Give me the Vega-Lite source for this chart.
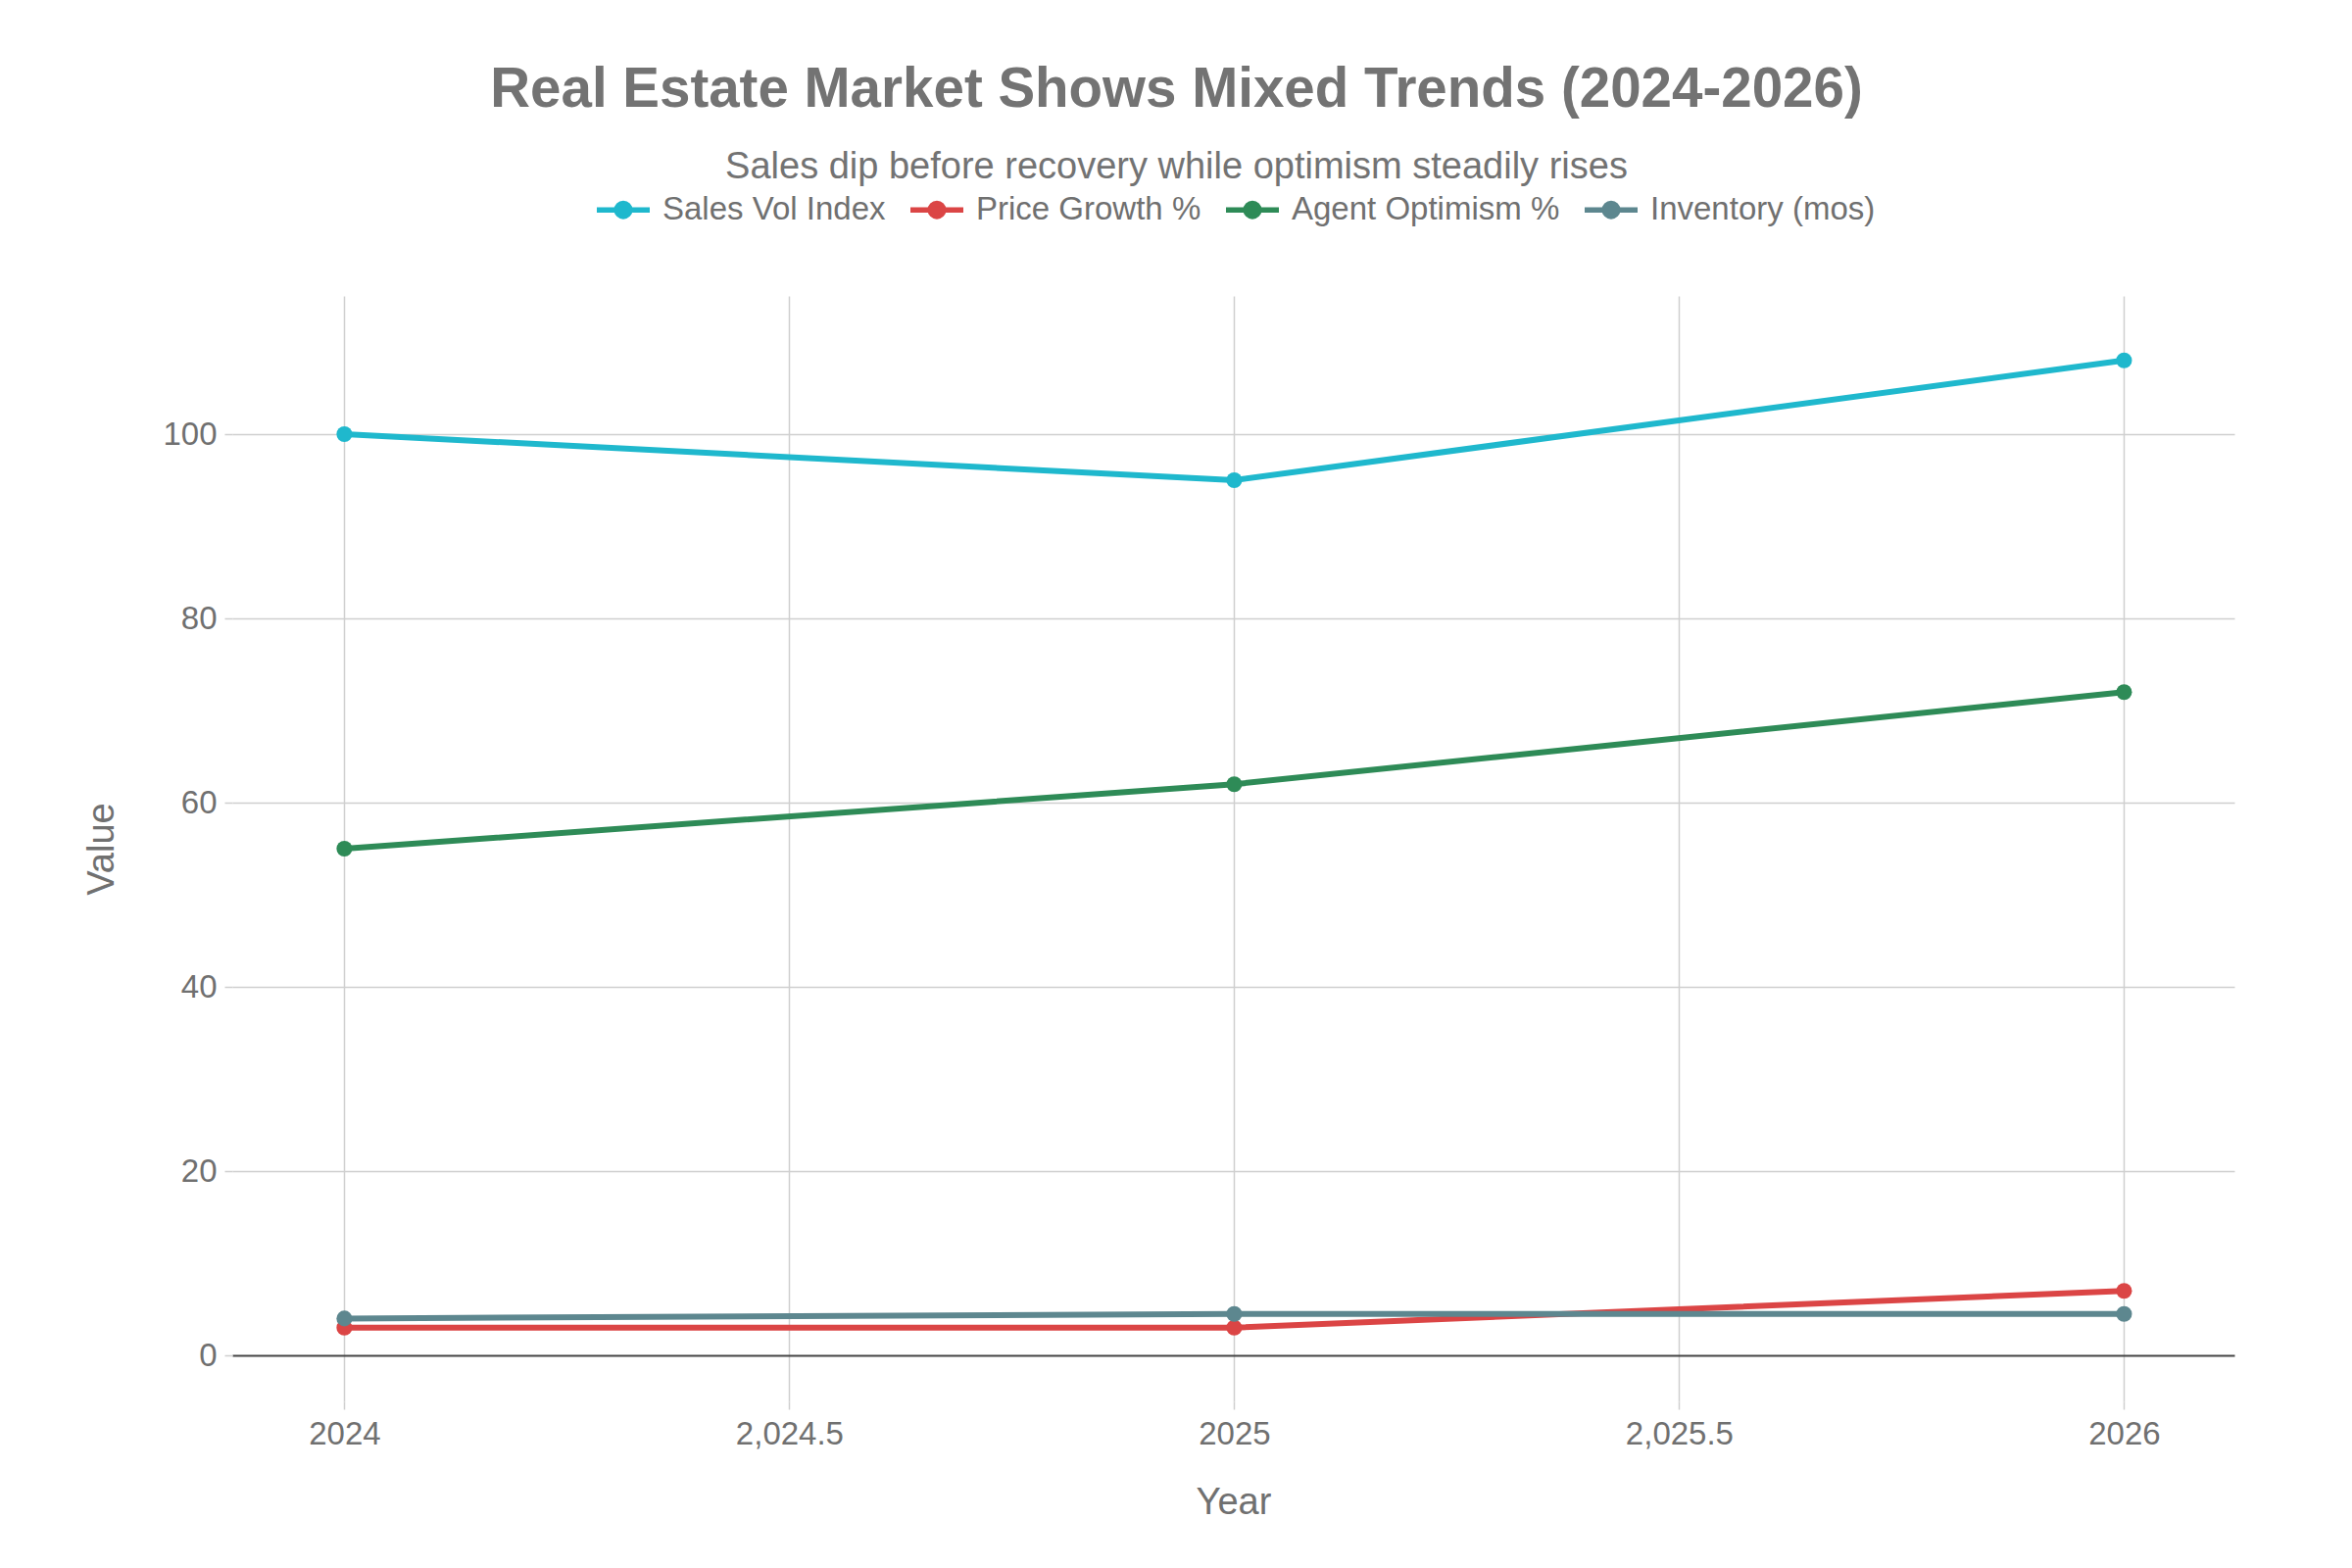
{
  "$schema": "https://vega.github.io/schema/vega-lite/v6.json",
  "width": 2043,
  "height": 1128,
  "autosize": {"type": "none"},
  "padding": {"left": 237, "top": 302, "right": 120, "bottom": 170},
  "background": "white",
  "title": {
    "text": "Real Estate Market Shows Mixed Trends (2024-2026)",
    "subtitle": "Sales dip before recovery while optimism steadily rises",
    "anchor": "middle",
    "dx": -58,
    "offset": -6,
    "font": "Liberation Sans",
    "fontSize": 56.5,
    "fontWeight": "bold",
    "color": "#737373",
    "subtitleFont": "Liberation Sans",
    "subtitleFontSize": 38,
    "subtitleColor": "#737373",
    "subtitlePadding": 32
  },
  "data": {
    "values": [
      {"year": 2024, "series": "Sales Vol Index", "value": 100},
      {"year": 2025, "series": "Sales Vol Index", "value": 95},
      {"year": 2026, "series": "Sales Vol Index", "value": 108},
      {"year": 2024, "series": "Price Growth %", "value": 3},
      {"year": 2025, "series": "Price Growth %", "value": 3},
      {"year": 2026, "series": "Price Growth %", "value": 7},
      {"year": 2024, "series": "Agent Optimism %", "value": 55},
      {"year": 2025, "series": "Agent Optimism %", "value": 62},
      {"year": 2026, "series": "Agent Optimism %", "value": 72},
      {"year": 2024, "series": "Inventory (mos)", "value": 4},
      {"year": 2025, "series": "Inventory (mos)", "value": 4.5},
      {"year": 2026, "series": "Inventory (mos)", "value": 4.5}
    ]
  },
  "mark": {"type": "line", "strokeWidth": 6, "point": {"filled": true, "size": 260, "opacity": 1}},
  "encoding": {
    "x": {
      "field": "year",
      "type": "quantitative",
      "scale": {"domain": [2023.874, 2026.124], "nice": false, "zero": false},
      "axis": {
        "values": [2024, 2024.5, 2025, 2025.5, 2026],
        "labelExpr": "datum.value % 1 === 0 ? format(datum.value, 'd') : format(datum.value, ',.1f')",
        "title": "Year",
        "labelPadding": 9,
        "titlePadding": 34
      }
    },
    "y": {
      "field": "value",
      "type": "quantitative",
      "scale": {"domain": [-5, 115], "nice": false, "zero": false},
      "axis": {
        "values": [0, 20, 40, 60, 80, 100],
        "title": "Value",
        "labelPadding": 8,
        "titlePadding": 42,
        "gridColor": {"condition": {"test": "datum.value === 0", "value": "#444444"}, "value": "#cfcfcf"},
        "gridWidth": {"condition": {"test": "datum.value === 0", "value": 2}, "value": 1.5}
      }
    },
    "color": {
      "field": "series",
      "type": "nominal",
      "scale": {
        "domain": ["Sales Vol Index", "Price Growth %", "Agent Optimism %", "Inventory (mos)"],
        "range": ["#1FB8CD", "#DB4545", "#2E8B57", "#5D878F"]
      },
      "legend": {
        "orient": "none",
        "legendX": 369,
        "legendY": -118,
        "direction": "horizontal",
        "columns": 4,
        "title": null,
        "symbolType": "M-1,0H1M-0.25,0A0.25,0.25,0,1,1,0.25,0A0.25,0.25,0,1,1,-0.25,0Z",
        "symbolSize": 2916,
        "symbolStrokeWidth": 5.5,
        "labelFont": "Liberation Sans",
        "labelFontSize": 33,
        "labelLimit": 600,
        "labelColor": "#707070",
        "columnPadding": 14,
        "labelOffset": 10,
        "encode": {
          "symbols": {
            "update": {
              "fill": {"scale": "color", "field": "value"},
              "stroke": {"scale": "color", "field": "value"},
              "opacity": {"value": 1}
            }
          }
        }
      }
    }
  },
  "config": {
    "view": {"stroke": null},
    "axis": {
      "labelFont": "Liberation Sans",
      "labelFontSize": 33,
      "labelColor": "#707070",
      "titleFont": "Liberation Sans",
      "titleFontSize": 38,
      "titleColor": "#707070",
      "titleFontWeight": "normal",
      "gridColor": "#cfcfcf",
      "gridWidth": 1.5,
      "tickColor": "#cfcfcf",
      "tickSize": 8,
      "tickWidth": 1.5,
      "domain": false
    }
  }
}
